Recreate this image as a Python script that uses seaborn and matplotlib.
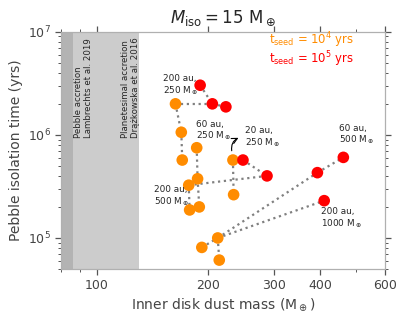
import numpy as np
import pandas as pd
import seaborn as sns
import matplotlib.pyplot as plt
from matplotlib.ticker import FixedLocator, NullFormatter, LogLocator

# inner disk dust mass (M_earth) and pebble isolation time (yrs)
orange_mass = [163, 169, 170, 186, 187, 177, 178, 189, 233, 234, 192, 212, 214]
orange_time = [2.0e6, 1.06e6, 5.7e5, 7.5e5, 3.75e5, 3.25e5, 1.87e5, 2.0e5,
               5.7e5, 2.63e5, 8.1e4, 1.0e5, 6.1e4]
red_mass = [190, 205, 223, 248, 288, 394, 463, 411]
red_time = [3.03e6, 2.0e6, 1.87e6, 5.7e5, 4.0e5, 4.3e5, 6.05e5, 2.3e5]

# dotted links between runs: (series, index) pairs
links = [(('r', 0), ('r', 1)), (('r', 1), ('r', 2)), (('o', 0), ('r', 1)),
         (('o', 0), ('o', 1)), (('o', 1), ('o', 2)),
         (('o', 3), ('o', 4)), (('o', 4), ('o', 7)),
         (('o', 5), ('r', 4)), (('o', 5), ('o', 6)),
         (('o', 8), ('o', 9)), (('r', 3), ('r', 4)),
         (('o', 10), ('o', 11)), (('o', 11), ('o', 12)),
         (('o', 11), ('r', 5)), (('r', 5), ('r', 6)), (('o', 11), ('r', 7))]

# run labels: text, mass, time (left edge, vertical centre)
run_labels = [('200 au,\n250 M$_\\oplus$', 151, 3.0e6),
              ('60 au,\n250 M$_\\oplus$', 185, 1.09e6),
              ('20 au,\n250 M$_\\oplus$', 251, 9.4e5),
              ('60 au,\n500 M$_\\oplus$', 451, 1.0e6),
              ('200 au,\n500 M$_\\oplus$', 143, 2.52e5),
              ('200 au,\n1000 M$_\\oplus$', 402, 1.54e5)]

x_ticks = [100, 200, 300, 400, 600]
x_minor = [80, 90, 500]

ORANGE = '#ff8c00'
RED = '#ff0000'

sns.set_style('ticks')
plt.rcParams['font.family'] = ['DejaVu Sans']

df = pd.DataFrame({
    'mass': orange_mass + red_mass,
    'time': orange_time + red_time,
    'seed': ['1e4'] * len(orange_mass) + ['1e5'] * len(red_mass),
})
pts = {'o': (orange_mass, orange_time), 'r': (red_mass, red_time)}

fig = plt.figure(figsize=(4.07, 3.21), dpi=100)
ax = fig.add_axes([0.150, 0.162, 0.796, 0.739])

ax.axvspan(1, 130, color='#cccccc', lw=0, zorder=0)
ax.axvspan(1, 86, color='#b3b3b3', lw=0, zorder=0)

for (s1, i1), (s2, i2) in links:
    ax.plot([pts[s1][0][i1], pts[s2][0][i2]], [pts[s1][1][i1], pts[s2][1][i2]],
            ls=':', color='#808080', lw=1.6, zorder=1)

sns.scatterplot(data=df, x='mass', y='time', hue='seed',
                palette={'1e4': ORANGE, '1e5': RED}, s=70, linewidth=0,
                legend=False, zorder=3, ax=ax)

ax.set_xscale('log')
ax.set_yscale('log')
ax.set_xlim(80, 600)
ax.set_ylim(5e4, 1e7)

ax.xaxis.set_major_locator(FixedLocator(x_ticks))
ax.xaxis.set_major_formatter(plt.FixedFormatter([str(t) for t in x_ticks]))
ax.xaxis.set_minor_locator(FixedLocator(x_minor))
ax.xaxis.set_minor_formatter(NullFormatter())
ax.yaxis.set_major_locator(LogLocator(base=10))
ax.yaxis.set_minor_locator(LogLocator(base=10, subs=np.arange(2, 10)))
ax.yaxis.set_minor_formatter(NullFormatter())

ax.tick_params(which='both', direction='out', top=True, right=True,
               colors='#555555', labelcolor='#444444', labelsize=9)
ax.tick_params(which='major', length=4, width=0.9)
ax.tick_params(which='minor', length=2.5, width=0.7)
for sp in ax.spines.values():
    sp.set_color('#b0b0b0')
    sp.set_linewidth(0.9)

ax.set_xlabel(r'Inner disk dust mass (M$_\oplus$)', fontsize=10, color='#444444', labelpad=3)
ax.set_ylabel('Pebble isolation time (yrs)', fontsize=10, color='#444444', labelpad=3)
ax.set_title(r'$M_{\rm iso} = 15\ {\rm M}_\oplus$', fontsize=12, pad=6)

ax.text(92, 9.4e5, 'Pebble accretion\nLambrechts et al. 2019', rotation=90,
        fontsize=6.2, ha='center', va='bottom', multialignment='left')
ax.text(123, 9.4e5, 'Planetesimal accretion\nDrążkowska et al. 2016', rotation=90,
        fontsize=6.2, ha='center', va='bottom', multialignment='left')

ax.text(0.904, 0.963, r't$_{\rm seed}$ = 10$^4$ yrs', color=ORANGE, fontsize=8.4,
        transform=ax.transAxes, ha='right', va='center')
ax.text(0.904, 0.886, r't$_{\rm seed}$ = 10$^5$ yrs', color=RED, fontsize=8.4,
        transform=ax.transAxes, ha='right', va='center')

for txt, m, t in run_labels:
    ax.text(m, t, txt, fontsize=6.4, ha='left', va='center', linespacing=1.1)

ax.annotate('', xy=(245, 9.6e5), xytext=(232, 6.6e5),
            arrowprops=dict(arrowstyle='->', color='black', lw=0.8,
                            connectionstyle='arc3,rad=-0.45'))

fig.savefig('out.png', dpi=100)
